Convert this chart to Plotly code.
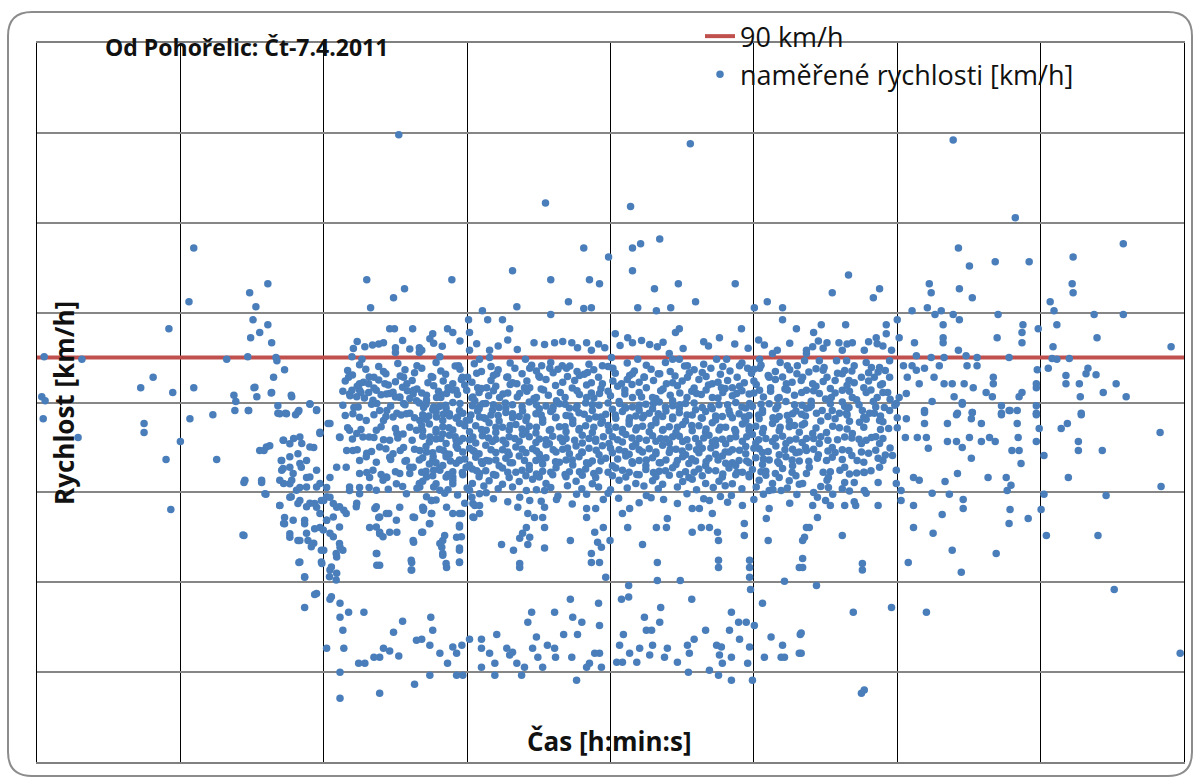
import plotly.graph_objects as go

# ---------------- data (time in hours, speed in km/h) ----------------
SPEED_LIMIT = 90

night = [(0.15,90.2),(0.94,89.6),(0.10,81.3),(0.17,80.4),(0.13,76.4),(0.86,72.2),(2.17,83.3),(2.43,85.6),(2.76,96.4),(2.84,82.2),
(2.24,75.3),(2.24,73.3),(2.70,67.3),(2.80,56.2),(3.00,71.3),(3.28,114.4),(3.18,102.4),(3.28,83.3),(3.20,76.4),(3.68,77.3),(3.76,67.3),
(3.97,89.6),(4.12,81.6),(4.16,80.2),(4.14,78.2),(4.43,78.2),(4.33,62.2),(4.33,50.4),(4.70,62.2),(4.79,59.6),(4.45,104.4),(4.83,106.4),
(4.58,101.3),(4.52,98.4),(4.83,97.3),(4.47,94.4),(4.66,95.6),(4.91,93.3),(4.41,90.2),(5.00,90.0),(5.02,89.3),(5.18,87.3),(4.95,85.6),
(4.54,83.3),(4.60,81.3),(4.91,82.2),(5.33,81.3),(5.04,79.3),(5.04,77.6),(5.20,77.6),(5.48,78.2),(5.71,79.6),(5.85,78.4),(5.41,77.3)]

dawn = [(4.75,69.3),(4.87,70.4),(5.16,71.6),(5.37,72.0),(5.54,70.9),(5.79,70.0),(5.92,73.1),(5.12,67.1),(5.12,64.9),(5.29,65.6),(5.50,66.4),
(5.64,63.3),(5.16,62.0),(5.33,62.7),(5.50,61.1),(5.29,58.9),(5.50,58.2),(5.71,57.6),(5.85,56.7),(6.00,58.2),(6.13,58.9),(6.27,56.7),(6.42,56.0),
(5.08,57.1),(5.18,54.4),(5.16,53.1),(5.29,50.0),(5.50,49.3),(5.64,50.9),(5.79,48.7),(5.60,53.8),(5.92,52.2),(6.06,53.8),(6.13,50.9),(6.34,47.8),
(6.27,45.6),(6.13,42.7),(6.27,42.0),(6.00,47.1),(5.96,44.2),(5.48,44.4),(5.60,41.1),(5.81,37.3),(5.60,34.4),(6.13,36.2),(6.34,35.3),(6.34,32.2),
(6.52,33.3),(6.84,33.3),(6.40,29.3),(6.06,25.3),(6.42,25.3),(6.34,20.0),(6.34,14.2),(7.17,15.3),(7.90,17.3),(6.73,22.0),(6.86,22.0),(7.05,23.3),
(7.17,23.3),(7.25,25.3),(7.38,24.7),(7.57,23.6),(7.46,28.9),(7.65,31.3),(7.94,27.1),(7.88,48.9),(7.84,44.4),(7.84,42.7),(7.11,46.4),(7.11,43.8),
(6.96,52.2),(7.17,51.1),(7.38,51.1),(7.53,51.1),(7.15,54.4),(7.36,55.3),(7.90,54.4),(8.05,51.1),(8.09,56.4),(7.59,56.7),(7.07,56.4),(6.69,57.6),
(6.54,60.4),(6.48,69.3),(6.69,73.1),(6.90,68.7),(7.05,72.2),(7.25,76.0),(7.38,67.8),(7.53,73.1),(7.67,70.0),(7.80,65.6),(8.00,62.0),(7.32,63.3),
(6.96,63.3),(6.75,61.1),(6.27,65.6),(6.13,63.3),(6.34,72.2),(6.13,75.3),(5.92,62.0),(6.06,61.1)]

morning = [(4.56,83.4),(4.90,82.1),(5.32,81.6),(4.42,78.2),(5.08,77.5),(5.22,77.5),(5.46,77.9),(5.71,79.7),(5.85,78.2),(6.09,75.3),(6.33,72.3),
(5.92,73.4),(4.66,69.3),(4.80,70.1),(5.15,71.6),(5.29,70.8),(5.50,72.3),(5.71,70.1),(5.11,67.1),(5.29,67.9),(5.46,68.6),(5.64,67.1),(5.15,65.3),
(5.36,64.2),(5.53,65.6),(5.71,63.4),(5.85,64.9),(4.35,62.7),(4.70,62.7),(4.77,59.7),(5.08,62.7),(5.29,61.9),(5.43,60.5),(5.64,61.2),(5.85,61.2),
(5.32,59.0),(5.46,57.5),(5.64,56.8),(5.81,57.5),(5.95,58.2),(6.06,59.0),(6.20,57.5),(6.33,56.8),(6.47,55.3),(5.08,57.1),(5.92,55.3),(6.06,53.8),
(6.20,54.5),(6.33,52.3),(5.99,51.6),(6.20,50.1),(6.33,48.6),(6.40,47.1),(6.26,46.4),(5.18,53.0),(5.29,50.8),(5.46,49.3),(5.67,49.3),(5.74,47.9),
(5.36,53.8),(5.60,53.0),(5.81,51.9),(5.50,44.5),(5.95,47.1),(5.95,44.5),(6.16,43.4),(6.12,41.2),(5.60,41.2),(6.26,40.5),(5.85,37.5),(6.16,36.8),
(4.31,50.5),(6.54,81.9),(6.75,82.7),(7.03,80.5),(7.31,81.9),(7.59,81.2),(7.87,81.9),(8.15,80.5),(8.43,81.9),(8.77,82.7),(9.12,81.2),(9.33,79.7),
(6.61,77.5),(6.89,76.0),(7.17,78.2),(7.45,76.8),(7.73,77.5),(8.01,76.0),(8.36,76.8),(8.63,77.5),(8.98,76.0),(9.26,76.8),(6.54,73.8),(6.82,72.3),
(7.10,73.8),(7.38,71.6),(7.66,73.0),(7.94,73.8),(8.22,72.3),(8.49,73.0),(8.77,71.6),(9.12,72.3),(9.40,73.8),(6.61,69.3),(6.89,67.9),(7.17,70.1),
(7.45,68.6),(7.73,67.1),(8.01,69.3),(8.29,67.9),(8.56,68.6),(8.84,67.1),(9.12,69.3),(9.40,67.1),(6.47,65.6),(6.75,64.2),(7.03,64.9),(7.31,63.4),
(7.59,64.2),(7.87,65.6),(8.15,63.4),(8.43,64.9),(8.70,63.4),(8.98,65.6),(9.26,64.2),(6.54,61.2),(6.75,59.7),(7.10,60.5),(7.24,62.7),(7.52,61.9),
(7.73,59.7),(8.01,61.2),(8.15,59.0),(8.43,60.5),(8.70,61.9),(9.05,60.5),(9.26,59.7),(6.68,56.8),(7.10,56.8),(7.17,54.5),(7.10,52.3),(7.31,55.3),
(7.52,53.8),(7.17,50.8),(7.24,50.1),(7.87,54.5),(8.08,56.0),(8.25,58.2),(8.25,55.3),(8.21,53.0),(8.43,48.6),(8.49,46.4),(8.56,44.2),(8.84,55.3),
(8.84,52.3),(8.88,50.1),(8.84,47.1),(8.84,44.5),(7.10,46.4),(7.17,43.8),(7.83,44.9),(7.83,42.7),(7.87,49.3),(8.49,49.3),(9.12,54.5),(9.26,55.3),
(9.12,57.5),
(7.57,139.6),(6.90,107.3),(6.98,101.1),(7.46,103.3),(7.69,105.3),(7.38,96.4),(7.48,96.4),(7.86,96.4),(6.86,92.4),(7.25,93.3),(7.50,92.2),
(7.50,91.1),(8.00,92.2),(8.00,91.1),(6.59,90.2),(6.80,89.6),(6.52,85.6),(6.75,84.2),(6.94,84.2),(7.05,85.6),(7.28,84.2),(7.67,85.6),(7.74,84.2),
(6.59,82.7),(6.69,81.3),(6.94,82.2),(7.11,79.8),(7.38,82.0),(7.59,81.1),(7.88,82.7),(7.94,80.4),(7.67,79.8),(6.63,78.9),(7.32,78.2),(7.53,77.6),
(7.80,77.6),(8.09,78.9)]

midday_upper = [(8.68,107.3),(10.64,124.4),(12.42,123.6),(13.67,137.6),(11.44,114.4),(11.96,112.4),(12.46,114.4),(12.63,115.3),(13.03,116.4),
(9.95,109.3),(10.75,107.3),(11.56,107.3),(11.77,106.4),(12.46,109.3),(12.92,105.3),(13.42,106.4),(14.61,106.4),(10.04,101.3),(11.12,102.4),
(11.44,100.9),(11.60,101.1),(10.75,99.6),(9.32,100.4),(9.03,98.4),(9.43,98.4),(9.74,98.4),(9.89,96.4),(12.57,101.1),(12.96,100.4),(13.26,101.1),
(13.78,102.4),(15.01,101.1),(15.28,102.4),(15.60,101.1),(15.60,98.4),(15.89,96.4),(14.74,96.4),(14.28,94.4),(13.44,96.4),(13.36,95.6),(12.10,95.3),
(12.36,94.4),(12.46,93.3),(12.82,92.9),(12.98,92.4),(8.70,95.6),(8.59,96.4),(8.28,95.3),(8.22,94.2),(10.83,93.3),(11.19,93.3),(11.31,92.2),
(11.50,93.3),(11.60,91.6),(9.05,95.6),(9.05,91.6),(9.47,91.6),(9.47,90.0),(9.26,89.6),(8.82,88.2),(8.43,90.2),(8.05,91.6),(10.22,89.6),(10.31,87.6),
(10.56,88.2),(10.73,87.6),(10.99,88.2),(11.08,87.6),(11.83,88.2),(12.02,90.0),(12.57,89.6),(13.23,90.9),(13.30,89.6),(13.44,89.6),(13.61,88.2),
(14.22,89.6),(14.43,89.6),(14.70,88.2),(14.87,87.6),(15.12,89.6),(15.39,90.9),(15.49,91.6),(15.70,88.2),(15.91,88.2),(16.10,90.9),(8.28,85.6),
(8.70,84.2),(9.01,85.6),(9.22,83.3),(9.62,86.4),(9.83,85.6),(10.04,84.2),(10.31,83.3),(10.52,85.6),(11.35,86.0),(11.52,86.7),(11.83,84.2),
(12.23,84.2),(12.46,86.4),(12.71,85.6),(13.03,86.4),(13.17,84.2),(13.61,85.6),(13.92,86.7),(14.13,84.2),(14.32,83.3),(14.55,83.3),(15.12,87.6),
(15.32,85.6),(15.68,84.2),(15.99,84.9),(15.12,82.7),(15.53,81.1),(8.36,81.1),(8.57,82.0),(8.99,82.7),(9.16,80.4),(9.41,83.3),(9.68,81.1),
(10.10,82.0),(10.45,81.1),(10.87,80.4),(11.50,81.1),(11.77,82.0),(12.19,79.8),(12.46,81.1),(12.88,81.1),(13.30,80.4),(13.80,82.0),(14.13,81.1),
(14.64,82.0),(14.91,79.8),
(6.62,92.0),(7.02,92.8),(7.80,91.9),(8.48,92.5),(9.65,92.6),(10.05,91.8),(10.62,92.9),(11.88,92.2),(12.20,92.7),(13.52,92.0),(14.05,92.6),
(14.88,92.1),(15.22,92.8),(16.45,92.1),(17.70,92.6),
(6.70,93.6),(7.15,93.0),(7.65,93.8),(8.30,93.2),(8.85,93.7),(9.20,93.1),(9.85,93.9),(10.40,93.3),(11.00,93.6),(11.75,93.0),(12.65,93.8),
(13.10,93.4),(13.95,93.5),(14.60,93.0),(15.10,93.9),(15.75,93.2),(16.35,93.7),(16.95,93.0),(17.40,93.5)]

midday_band = [(6.55,81.5),(6.85,81.0),(7.20,81.7),(7.50,81.2),(7.80,80.9),(8.15,81.6),(8.45,81.1),(8.80,81.8),(9.10,81.0),(9.45,81.5),(9.75,81.9),
(10.05,81.2),(10.40,80.9),(10.70,81.6),(11.05,81.1),(11.35,81.8),(11.65,81.0),(12.00,81.5),(12.30,81.9),(12.65,81.2),(12.95,80.9),(13.25,81.6),
(13.60,81.1),(13.90,81.8),(14.25,81.0),(14.55,81.5),(14.90,81.9),(15.20,81.2),(15.50,80.9),(15.85,81.6),
(6.70,83.6),(7.05,83.2),(7.35,83.9),(7.65,83.4),(7.95,83.0),(8.30,83.7),(8.60,83.3),(8.95,83.9),(9.30,83.1),(9.60,83.6),(9.90,84.0),(10.20,83.3),
(10.55,83.0),(10.85,83.8),(11.20,83.2),(11.50,83.9),(11.80,83.1),(12.15,83.6),(12.45,84.0),(12.75,83.3),(13.10,83.0),(13.40,83.7),(13.75,83.2),
(14.05,83.9),(14.40,83.1),(14.70,83.6),(15.05,84.0),(15.35,83.3),(15.65,83.0),
(6.60,86.1),(6.95,85.7),(7.30,86.4),(7.60,85.9),(7.90,86.6),(8.25,85.8),(8.55,86.3),(8.90,85.6),(9.20,86.5),(9.55,86.0),(9.85,85.7),(10.15,86.4),
(10.50,85.9),(10.80,86.6),(11.10,85.8),(11.45,86.3),(11.75,85.6),(12.10,86.5),(12.40,86.0),(12.70,85.7),(13.00,86.4),(13.35,85.9),(13.65,86.6),
(14.00,85.8),(14.30,86.3),(14.65,85.6),(14.95,86.5),(15.30,86.0),(15.60,85.7),(15.90,86.4),
(6.75,88.4),(7.15,88.0),(7.55,88.7),(7.95,88.2),(8.35,88.9),(8.75,88.1),(9.15,88.6),(9.50,88.0),(9.90,88.8),(10.35,88.3),(10.75,88.9),(11.15,88.1),
(11.55,88.5),(11.95,88.0),(12.35,88.8),(12.75,88.3),(13.15,88.9),(13.55,88.1),(13.95,88.5),(14.35,88.0),(14.75,88.8),(15.15,88.3),(15.55,88.9),
(8.14,79.6),(8.42,79.1),(8.70,80.0),(9.11,79.3),(9.39,79.8),(9.67,78.9),(9.95,79.5),(10.30,80.1),(10.65,79.2),(10.93,79.7),(11.14,78.8),(11.48,79.9),
(11.76,79.4),(12.18,80.2),(12.46,79.0),(12.74,79.6),(13.02,80.1),(13.30,79.3),(13.57,79.8),(13.92,78.9),(14.27,79.5),(14.62,80.0),(14.97,79.1),
(15.32,79.7),(15.67,80.2),(16.01,79.4),
(8.28,78.4),(8.56,78.7),(8.84,78.2),(9.25,78.6),(9.53,78.3),(9.81,78.8),(10.16,78.1),(10.51,78.6),(10.79,78.4),(11.28,78.7),(11.62,78.2),(12.04,78.5),
(12.32,78.8),(12.60,78.3),(12.88,78.6),(13.16,78.1),(13.44,78.7),(13.78,78.4),(14.13,78.6),(14.48,78.2),(14.83,78.8),(15.18,78.3),(15.46,78.6),(15.88,78.1),
(8.07,77.3),(8.35,77.9),(8.63,77.0),(8.91,77.6),(9.22,78.1),(9.50,77.2),(9.81,77.8),(10.09,76.9),(10.44,77.5),(10.75,78.0),(11.07,77.1),(11.34,77.7),
(11.69,76.8),(11.90,77.4),(12.25,78.0),(12.53,77.0),(12.81,77.6),(13.09,76.9),(13.44,77.7),(13.71,77.2),(13.99,78.0),(14.34,76.9),(14.69,77.5),
(14.90,77.1),(15.18,77.8),(15.53,76.9),(15.81,77.5),(16.08,77.0),
(8.14,76.3),(8.49,76.0),(8.77,76.5),(9.05,76.1),(9.39,76.4),(9.67,75.9),(9.95,76.6),(10.23,76.0),(10.58,76.3),(10.86,76.7),(11.21,76.1),(11.55,76.4),
(11.83,75.9),(12.11,76.5),(12.39,76.0),(12.67,76.6),(12.95,76.2),(13.30,76.4),(13.57,75.9),(13.92,76.5),(14.20,76.1),(14.55,76.6),(14.83,76.0),
(15.11,76.4),(15.46,76.2),(15.74,75.9),
(8.21,75.2),(8.49,74.6),(8.84,75.4),(9.18,74.8),(9.46,75.5),(9.74,74.5),(10.02,75.1),(10.30,74.7),(10.58,75.6),(10.93,74.6),(11.21,75.3),(11.48,74.8),
(11.80,75.4),(12.11,74.5),(12.39,75.2),(12.67,74.7),(12.95,75.5),(13.23,74.6),(13.51,75.1),(13.85,74.8),(14.13,75.5),(14.41,74.5),(14.76,75.2),
(15.04,74.7),(15.39,75.3),(15.74,74.6),(16.01,75.0),
(8.07,73.7),(8.35,73.4),(8.70,73.9),(9.05,73.5),(9.32,73.8),(9.60,73.3),(9.88,73.9),(10.23,73.6),(10.44,73.2),(10.72,73.8),(11.07,73.5),(11.34,73.9),
(11.62,73.3),(11.97,73.7),(12.25,73.4),(12.53,73.9),(12.81,73.5),(13.09,73.8),(13.37,73.3),(13.71,73.7),(13.99,73.4),(14.27,73.9),(14.62,73.5),
(14.90,73.8),(15.18,73.3),(15.53,73.7),(15.95,73.4),
(8.07,72.5),(8.35,71.9),(8.63,72.7),(8.91,72.0),(9.32,72.6),(9.60,71.8),(9.88,72.4),(10.16,72.9),(10.51,71.9),(10.79,72.5),(11.07,72.0),(11.41,72.7),
(11.69,71.8),(12.04,72.4),(12.32,72.9),(12.60,72.0),(12.88,72.6),(13.16,71.9),(13.44,72.5),(13.78,72.0),(14.06,72.7),(14.34,71.8),(14.62,72.4),
(14.97,72.9),(15.25,72.0),(15.60,72.5),(15.88,71.9),
(8.21,71.2),(8.56,70.9),(8.84,71.4),(9.18,71.0),(9.53,71.3),(9.81,70.8),(10.09,71.4),(10.44,71.1),(10.72,70.8),(11.00,71.3),(11.41,71.0),(11.69,71.4),
(11.97,70.9),(12.25,71.2),(12.53,70.8),(12.95,71.4),(13.23,71.0),(13.51,71.3),(13.85,70.9),(14.13,71.2),(14.41,70.8),(14.76,71.4),(15.04,71.0),
(15.39,71.3),(15.67,70.9),(16.01,71.1),
(8.14,70.2),(8.42,69.6),(8.77,70.4),(9.05,69.8),(9.39,70.5),(9.74,69.5),(10.02,70.1),(10.37,69.7),(10.65,70.6),(11.00,69.6),(11.28,70.3),(11.55,69.8),
(11.83,70.4),(12.18,69.5),(12.46,70.2),(12.81,69.7),(13.09,70.5),(13.37,69.6),(13.64,70.1),(13.92,69.8),(14.20,70.5),(14.55,69.5),(14.83,70.2),
(15.11,69.7),(15.46,70.3),(15.81,69.6),(16.08,70.0),
(8.28,68.8),(8.63,68.5),(8.91,69.0),(9.25,68.6),(9.60,68.9),(9.88,68.4),(10.23,68.8),(10.51,68.5),(10.86,69.0),(11.14,68.6),(11.41,68.9),(11.76,68.4),
(12.04,68.8),(12.39,68.5),(12.67,69.0),(12.95,68.6),(13.23,68.9),(13.57,68.4),(13.85,68.8),(14.20,68.5),(14.48,69.0),(14.83,68.6),(15.18,68.9),
(15.53,68.4),(15.88,68.8),
(8.07,67.7),(8.28,67.1),(8.56,67.9),(8.84,67.2),(9.18,67.8),(9.46,67.0),(9.81,67.6),(10.09,68.1),(10.44,67.1),(10.65,67.7),(11.07,67.2),(11.34,67.9),
(11.62,67.0),(11.90,67.6),(12.32,68.1),(12.60,67.1),(12.88,67.7),(13.16,67.2),(13.51,67.9),(13.78,67.0),(14.06,67.6),(14.34,68.1),(14.69,67.1),
(15.04,67.7),(15.32,67.2),(15.67,67.9),(15.95,67.0),
(8.21,66.3),(8.49,66.0),(8.77,66.5),(9.05,66.1),(9.32,66.4),(9.67,65.9),(9.95,66.6),(10.30,66.0),(10.58,66.3),(10.93,66.7),(11.21,66.1),(11.55,66.4),
(12.04,65.9),(12.46,66.5),(12.74,66.0),(13.02,66.6),(13.37,66.2),(13.64,66.4),(13.99,65.9),(14.41,66.5),(14.62,66.0),(14.90,66.6),(15.18,66.2),
(15.53,66.4),(15.81,65.9),
(8.14,64.7),(8.42,65.3),(8.70,64.6),(9.11,65.2),(9.39,64.8),(9.74,65.4),(10.02,64.5),(10.30,65.1),(10.58,64.7),(10.86,65.5),(11.14,64.6),(11.48,65.2),
(11.76,64.8),(12.11,65.4),(12.39,64.5),(12.74,65.1),(13.02,64.7),(13.30,65.5),(13.57,64.6),(13.85,65.2),(14.20,64.8),(14.48,65.4),(14.76,64.5),
(14.97,65.1),(15.25,64.7),(15.60,65.3),
(8.28,63.7),(8.56,63.4),(8.91,63.9),(9.25,63.5),(9.60,63.8),(9.88,63.3),(10.23,63.7),(10.51,63.4),(10.79,63.9),(11.07,63.5),(11.41,63.8),(11.69,63.3),
(12.04,63.7),(12.32,63.4),(12.60,63.9),(12.95,63.5),(13.23,63.8),(13.64,63.3),(13.92,63.7),(14.34,63.4),(14.62,63.9),(14.90,63.5),(15.25,63.8),
(15.53,63.3),(15.88,63.7),
(8.07,62.5),(8.35,61.9),(8.70,62.7),(9.11,62.0),(9.46,62.6),(9.74,61.8),(10.09,62.4),(10.37,62.9),(10.65,62.0),(11.28,62.5),(11.62,61.9),(12.18,62.7),
(12.53,62.0),(12.88,62.6),(13.09,61.8),(13.51,62.4),(13.71,62.9),(13.99,62.0),(14.27,62.5),(14.55,61.9),(15.11,62.7),(15.39,62.0),(15.74,62.6),(15.95,61.8)]

band_extra = [(6.50,87.1),(6.88,87.4),(7.25,86.9),(7.70,87.3),(8.05,87.6),(8.45,87.0),(8.85,87.4),(9.30,86.9),(9.65,87.3),(10.00,87.6),(10.45,87.0),
(10.90,87.4),(11.30,86.9),(11.65,87.3),(12.05,87.6),(12.50,87.0),(12.85,87.4),(13.25,86.9),(13.75,87.3),(14.10,87.6),(14.50,87.0),(15.00,87.4),
(15.45,86.9),(15.75,87.3),(16.30,87.5),(16.90,87.1),(17.60,86.8),(18.40,87.2),
(6.45,84.8),(6.83,84.5),(7.15,85.0),(7.50,84.6),(7.85,84.9),(8.18,84.4),(8.50,84.8),(8.88,85.1),(9.10,84.5),(9.50,84.9),(9.95,84.4),(10.25,84.8),
(10.65,85.1),(11.00,84.5),(11.25,84.9),(11.60,84.4),(12.05,84.8),(12.35,85.1),(12.60,84.5),(12.90,84.9),(13.30,84.4),(13.50,84.8),(13.85,85.1),
(14.25,84.5),(14.45,84.9),(14.80,84.4),(15.00,84.8),(15.45,85.1),(15.80,84.5),(16.45,84.7),(16.70,84.9),(17.10,84.4),(17.40,84.8),
(6.40,82.5),(6.78,82.2),(7.10,82.7),(7.45,82.3),(7.75,82.6),(8.05,82.1),(8.40,82.5),(8.70,82.8),(9.25,82.2),(9.55,82.6),(9.85,82.1),(10.25,82.5),
(10.60,82.8),(10.95,82.2),(11.30,82.6),(11.60,82.1),(11.95,82.5),(12.30,82.8),(12.60,82.2),(13.05,82.6),(13.45,82.1),(13.70,82.5),(14.00,82.8),
(14.35,82.2),(14.75,82.6),(15.00,82.1),(15.35,82.5),(15.70,82.8),(16.00,82.2),(16.25,82.6),(16.70,82.1),(17.00,82.5),(17.45,82.8),(17.70,82.2),
(6.40,79.4),(6.72,79.0),(7.00,79.6),(7.40,79.2),(7.70,79.5),(8.00,79.9),(8.30,79.0),(8.55,79.4),(8.85,79.8),(9.25,79.0),(9.55,79.5),(9.80,79.9),
(10.15,79.1),(10.45,79.5),(10.80,79.0),(11.05,79.6),(11.30,79.2),(11.62,79.5),(11.95,79.9),(12.30,79.0),(12.60,79.4),(12.90,79.8),(13.15,79.0),
(13.45,79.5),(13.75,79.9),(14.10,79.1),(14.45,79.5),(14.75,79.0),(15.15,79.6),(15.50,79.2),(15.85,79.5),(16.20,79.3),(16.60,79.7),(16.90,79.1),
(17.20,79.5),(17.55,79.0),(17.95,79.4),
(6.45,77.1),(6.75,76.7),(7.05,77.3),(7.30,76.9),(7.62,77.2),(7.90,76.6),(8.20,77.0),(8.50,77.4),(8.80,76.8),(9.08,77.2),(9.35,76.6),(9.65,77.1),
(9.95,77.5),(10.25,76.8),(10.55,77.2),(10.85,76.6),(11.15,77.0),(11.45,77.4),(11.80,76.8),(12.10,77.2),(12.40,76.6),(12.70,77.1),(13.00,77.5),
(13.30,76.8),(13.60,77.2),(13.90,76.6),(14.20,77.0),(14.50,77.4),(14.80,76.8),(15.10,77.2),(15.40,76.6),(15.70,77.1),(16.00,77.4),(16.55,76.9),
(16.95,77.2),(17.30,76.7),(17.65,77.0),(18.00,76.6),
(6.50,74.4),(6.78,74.0),(7.20,74.6),(7.50,74.2),(7.80,74.5),(8.05,74.9),(8.35,74.0),(8.62,74.4),(8.95,74.8),(9.30,74.0),(9.60,74.5),(9.90,74.9),
(10.15,74.1),(10.45,74.5),(10.75,74.0),(11.05,74.6),(11.35,74.2),(11.65,74.5),(11.95,74.9),(12.25,74.0),(12.55,74.4),(12.85,74.8),(13.10,74.0),
(13.40,74.5),(13.70,74.9),(14.00,74.1),(14.30,74.5),(14.60,74.0),(14.90,74.6),(15.20,74.2),(15.55,74.5),(15.85,74.9),(16.30,74.3),(16.65,74.7),
(16.95,74.1),(17.30,74.5),(17.65,74.0),(18.00,74.4),
(6.60,71.9),(6.95,72.3),(7.25,71.7),(7.55,72.1),(7.85,71.6),(8.45,72.0),(8.75,72.4),(9.05,71.7),(9.45,72.1),(9.75,71.6),(10.00,72.0),(10.30,72.4),
(10.65,71.7),(10.95,72.1),(11.25,71.6),(11.55,72.0),(11.85,72.4),(12.15,71.7),(12.45,72.1),(12.75,71.6),(13.05,72.0),(13.30,72.4),(13.60,71.7),
(13.95,72.1),(14.20,71.6),(14.50,72.0),(14.85,72.4),(15.10,71.7),(15.45,72.1),(15.75,71.6),(16.10,72.0),(16.40,72.4),(16.75,71.7),(17.05,72.1),
(17.35,71.6),(17.70,72.0),
(6.70,69.5),(7.00,69.1),(7.30,69.7),(7.60,69.3),(7.90,69.6),(8.15,69.0),(8.50,69.4),(8.80,69.8),(9.15,69.1),(9.50,69.5),(9.85,69.0),(10.15,69.6),
(10.45,69.2),(10.80,69.5),(11.10,69.9),(11.40,69.0),(11.70,69.4),(12.00,69.8),(12.30,69.1),(12.60,69.5),(12.95,69.0),(13.25,69.6),(13.50,69.2),
(13.80,69.5),(14.10,69.9),(14.40,69.0),(14.70,69.4),(15.00,69.8),(15.30,69.1),(15.65,69.5),(15.95,69.0),(16.25,69.6),(16.55,69.2),(16.85,69.5),
(17.25,69.0),(17.55,69.4),(17.85,69.9),
(6.75,67.1),(7.10,66.7),(7.40,67.3),(7.70,66.9),(8.00,67.2),(8.35,66.6),(8.65,67.0),(8.95,67.4),(9.30,66.8),(9.60,67.2),(9.90,66.6),(10.20,67.1),
(10.55,67.5),(10.85,66.8),(11.20,67.2),(11.50,66.6),(11.80,67.0),(12.15,67.4),(12.45,66.8),(12.75,67.2),(13.05,66.6),(13.40,67.1),(13.70,67.5),
(14.00,66.8),(14.25,67.2),(14.55,66.6),(14.85,67.0),(15.20,67.4),(15.50,66.8),(15.80,67.2),(16.15,66.9),(16.85,67.3),(17.30,66.7),(17.70,67.1),
(6.90,64.4),(7.20,64.0),(7.50,64.6),(7.80,64.2),(8.05,64.5),(8.30,64.9),(8.60,64.0),(8.90,64.4),(9.20,64.8),(9.55,64.0),(9.85,64.5),(10.15,64.9),
(10.45,64.1),(10.75,64.5),(11.05,64.0),(11.35,64.6),(11.65,64.2),(11.95,64.5),(12.25,64.9),(12.55,64.0),(12.90,64.4),(13.15,64.8),(13.45,64.0),
(13.75,64.5),(14.05,64.9),(14.35,64.1),(14.65,64.5),(14.90,64.0),(15.15,64.6),(15.45,64.2),(15.80,64.5),(16.10,64.2),(16.60,64.6),(17.00,64.1),
(17.30,64.5),
(6.95,61.1),(7.35,60.7),(7.65,61.3),(7.95,60.9),(8.30,61.2),(8.60,60.6),(9.00,61.0),(9.35,61.4),(9.65,60.8),(9.95,61.2),(10.45,60.6),(10.75,61.1),
(11.10,61.5),(11.40,60.8),(11.75,61.2),(12.00,60.6),(12.35,61.0),(12.70,61.4),(13.00,60.8),(13.40,61.2),(13.80,60.6),(14.15,61.1),(14.40,61.5),
(14.75,60.8),(15.05,61.2),(15.40,60.6),(15.70,61.0),(16.40,61.3),(16.85,60.8),
(8.80,59.4),(9.40,59.9),(10.90,59.2),(11.95,59.8),(12.75,59.3),(13.60,59.7),(14.30,59.1),(15.20,59.6),(15.90,59.5),
(8.35,58.3),(8.95,57.6),(9.55,58.6),(9.85,57.9),(10.55,58.0),(11.20,57.4),(11.85,58.4),(12.60,57.7),(12.85,58.8),(13.40,57.5),(13.95,58.6),
(14.45,57.8),(15.00,58.4),(15.75,57.6),(16.50,58.2),(17.10,57.9)]

midday_mid = [(8.07,56.7),(8.26,58.2),(8.26,55.3),(8.22,53.1),(8.07,51.1),(8.53,59.8),(8.57,56.7),(8.70,55.3),(8.89,55.3),(8.84,52.7),(8.53,50.4),
(8.47,47.8),(8.49,46.0),(8.57,43.3),(8.78,50.0),(8.84,47.6),(8.84,44.4),(9.16,57.1),(9.26,57.1),(9.14,54.4),(9.10,58.9),(9.72,48.4),(9.97,47.1),
(10.10,44.2),(10.10,43.3),(10.06,56.7),(10.10,58.9),(10.24,60.4),(10.31,58.2),(10.27,55.3),(10.41,54.4),(10.58,54.4),(10.24,52.2),(10.16,50.9),
(10.31,50.0),(10.10,49.8),(10.27,48.4),(10.62,52.2),(10.62,47.6),(10.62,56.7),(10.62,60.4),(10.87,58.4),(11.16,49.3),(11.29,59.6),(11.50,59.6),
(11.50,56.4),(11.69,56.4),(11.50,54.4),(11.67,51.1),(11.73,48.9),(11.81,47.8),(11.60,46.4),(11.60,44.4),(11.77,44.4),(11.85,52.2),(11.90,41.1),
(11.99,49.3),(12.17,58.7),(12.25,55.3),(12.36,52.2),(12.40,56.4),(12.67,48.4),(12.98,44.4),(12.98,40.4),(13.46,40.4),(12.96,52.2),(13.17,52.2),
(13.19,54.2),(13.11,58.4),(13.71,56.4),(13.86,56.4),(13.71,51.1),(13.90,52.2),(14.07,52.2),(14.13,55.3),(14.24,51.1),(14.26,49.3),(14.26,44.9),
(14.26,43.3),(14.07,58.2),(14.53,59.3),(14.76,57.1),(14.80,53.1),(14.80,50.4),(14.91,44.9),(14.91,43.3),(15.30,49.3),(15.32,56.4),(15.26,54.2),
(15.57,60.4),(16.10,52.2),(15.95,43.3),(15.32,60.4),(16.02,49.3)]

jam = [(8.24,32.2),(8.28,29.3),(8.05,27.3),(8.22,26.0),(8.43,24.2),(8.59,22.0),(8.22,19.3),(8.78,19.3),(8.91,19.3),(8.70,25.6),(8.89,26.0),
(8.78,24.2),(9.05,27.3),(9.30,27.3),(9.30,25.3),(9.62,28.4),(9.47,24.2),(9.30,21.1),(9.58,22.0),(9.58,19.3),(9.83,25.3),(9.95,24.4),(9.89,23.8),
(10.04,22.0),(10.20,21.1),(10.14,19.3),(10.35,33.3),(10.27,31.1),(10.45,27.8),(10.37,25.3),(10.48,23.3),(10.58,21.1),(10.68,26.0),(10.83,25.3),
(10.85,23.3),(10.83,33.3),(11.02,28.4),(11.16,36.2),(11.21,32.2),(11.40,31.1),(11.31,28.4),(11.19,23.3),(11.29,18.2),(11.56,22.0),(11.67,24.2),
(11.77,24.2),(11.81,21.1),(11.77,30.4),(11.75,35.3),(11.50,21.1),(12.13,22.2),(12.25,22.2),(12.19,26.0),(12.27,28.4),(12.40,24.2),(12.61,25.3),
(12.55,22.2),(12.82,23.8),(12.88,26.0),(13.13,23.3),(13.19,25.3),(13.40,22.2),(12.71,32.2),(12.75,29.3),(12.86,29.3),(13.03,31.1),(13.05,34.4),
(12.23,36.2),(12.38,36.7),(12.38,39.3),(13.70,36.2),(13.61,26.0),(13.65,24.2),(13.75,27.3),(13.63,20.0),(13.99,29.3),(14.22,26.0),(14.28,23.8),
(14.34,22.0),(14.32,25.6),(14.53,23.3),(14.53,18.2),(14.70,27.3),(14.68,31.1),(14.53,33.3),(14.84,31.1),(14.91,25.6),(14.87,22.0),(14.26,19.3),
(14.07,20.4),(14.49,29.3),(14.97,18.2),(15.01,30.4),(14.93,38.4),(14.91,41.1),(15.22,23.3),(15.36,27.8),(15.57,23.3),(15.64,23.3),(15.60,26.0),
(15.95,24.2),(15.97,28.4),(15.18,35.3),(15.64,40.2),(15.99,28.7),(15.99,24.2),(17.31,16.0),(17.25,15.3),(17.08,33.3),(17.88,34.4),(16.31,39.3),
(18.61,33.3),(22.54,38.4),(23.92,24.2)]

afternoon = [(19.17,138.4),(20.47,121.1),(19.28,114.4),(19.51,110.4),(20.05,111.3),(20.76,111.3),(21.68,112.4),(22.73,115.3),(16.98,108.4),
(16.64,104.4),(17.50,103.3),(17.63,105.3),(18.67,106.4),(18.71,104.4),(19.30,105.3),(19.57,103.3),(21.66,106.4),(21.68,104.4),(21.20,102.4),
(21.28,100.4),(18.31,100.4),(18.63,101.1),(18.79,99.6),(18.92,100.4),(19.17,99.6),(19.30,98.4),(20.11,99.6),(22.12,99.6),(22.73,99.6),(18.00,98.4),
(17.77,97.3),(16.41,97.3),(16.92,97.3),(16.25,95.6),(18.96,97.3),(20.63,97.3),(20.95,96.4),(21.34,97.3),(20.61,95.6),(20.09,94.4),(18.96,94.4),
(18.96,93.3),(20.61,93.3),(22.18,94.4),(18.36,93.3),(18.04,94.4),(17.56,94.4),(17.58,93.1),(17.77,95.3),(17.06,93.3),(16.78,93.3),(16.53,93.3),
(16.23,92.4),(21.26,92.4),(23.73,92.4),(19.28,91.6),(20.34,90.0),(17.88,91.6),(17.31,91.6),(16.85,91.6),(16.10,91.6),(18.40,90.4),(18.71,90.0),
(18.98,90.0),(19.44,90.4),(19.67,90.0),(21.24,89.8),(21.60,89.8),(18.13,88.2),(18.31,88.2),(18.57,87.6),(18.88,88.2),(19.46,88.2),(19.67,88.2),
(20.93,87.3),(21.16,87.6),(21.34,89.6),(21.99,87.6),(21.95,86.4),(22.16,86.2),(21.53,86.0),(21.53,84.2),(21.81,84.2),(22.58,84.2),(22.31,82.2),
(22.79,81.3),(21.83,81.3),(21.85,77.6),(18.21,85.6),(18.46,84.2),(18.77,85.6),(18.98,84.2),(19.15,84.2),(19.40,84.2),(19.59,83.3),(20.01,85.6),
(20.01,84.2),(19.86,82.2),(19.99,81.3),(20.91,84.2),(20.91,83.3),(20.61,82.2),(20.55,81.3),(19.19,81.3),(19.36,80.0),(18.73,80.2),(18.57,78.2),
(20.18,79.3),(20.18,77.6),(20.34,78.2),(20.51,78.2),(20.91,79.3),(20.91,77.6),(19.57,77.8),(19.26,77.6),(18.04,81.1),(18.19,82.0),(17.98,79.8),
(16.06,89.3),(16.37,89.3),(16.47,87.8),(16.73,89.3),(16.94,89.3),(17.10,88.2),(17.35,88.9),(17.46,87.8),(17.63,87.8),(17.84,89.3),(16.02,85.6),
(16.23,84.2),(16.53,85.6),(16.85,86.4),(16.99,84.9),(17.25,85.6),(17.52,85.6),(17.69,84.2),(17.84,85.6),(16.10,82.7),(16.37,82.0),(16.62,81.1),
(16.85,82.7),(17.06,81.1),(17.35,82.2),(17.58,81.1),(17.80,82.2),(16.16,78.9),(16.43,78.2),(16.79,77.6),(16.99,78.9),(17.27,78.2),(17.52,77.6),
(17.73,78.9),
(16.15,86.8),(16.45,87.2),(16.75,86.5),(17.05,87.0),(17.40,86.6),(17.75,87.1),(16.30,83.6),(16.60,83.1),(16.95,83.8),(17.30,83.3),(17.65,83.9),
(16.20,80.3),(16.50,80.8),(16.85,80.1),(17.15,80.6),(17.50,80.2),(17.85,80.7),(16.40,75.9),(16.70,76.4),(17.00,75.8),(17.35,76.3),(17.70,75.7),
(16.25,72.0),(16.55,71.6),(16.90,72.3),(17.20,71.8),(17.55,72.4),(16.35,68.4),(16.70,68.9),(17.05,68.2),(17.40,68.7),(17.75,68.3),(16.45,64.5),
(16.80,64.9),(17.15,64.3),(17.45,64.8),(16.25,60.0),(16.65,59.6),(17.00,60.3),(17.35,59.8)]

evening = [(23.50,73.3),(23.52,61.3),(22.20,50.4),(22.37,59.3),(22.29,69.3),(21.85,77.3),(21.56,75.3),(21.43,74.2),(21.79,71.3),(21.79,69.3),
(21.58,63.3),(21.07,68.2),(20.91,71.3),(20.97,74.2),(20.91,77.3),(21.07,59.6),(21.01,56.2),(21.12,50.4),(20.74,54.2),(20.34,53.1),(20.36,56.2),
(20.30,60.4),(20.38,61.6),(20.28,63.3),(20.59,66.4),(20.40,69.3),(20.55,69.3),(20.53,72.2),(20.51,75.3),(20.36,78.2),(20.18,77.3),(20.05,71.3),
(19.93,72.2),(19.76,75.3),(19.76,71.3),(19.55,67.6),(19.36,70.0),(19.24,71.3),(19.51,72.2),(19.55,76.4),(19.57,77.8),(19.24,77.3),(19.05,75.3),
(19.05,71.3),(19.36,79.6),(19.90,63.3),(19.26,64.2),(19.00,62.4),(19.09,59.6),(19.38,58.4),(19.38,56.4),(18.94,55.1),(19.15,47.1),(19.34,42.2),
(20.07,46.4),(18.73,59.8),(18.75,50.9),(18.34,52.2),(18.23,44.4),(18.34,57.1),(18.34,63.3),(18.46,62.7),(18.08,58.2),(18.08,60.4),(17.98,62.0),
(17.98,64.9),(17.90,68.2),(18.17,72.2),(18.42,72.2),(18.61,72.2),(18.65,69.8),(18.57,75.3),(18.57,77.8),(18.19,76.4),(17.82,74.2),(17.63,70.9),
(17.60,67.6),(17.60,62.2),(17.60,57.1),(17.31,60.4),(17.13,57.1),(16.90,57.1),(16.60,57.1),(16.85,50.4),(17.27,44.2),(17.27,42.7),(16.33,54.4),
(16.23,57.1),(16.16,52.2),(16.06,50.0),(16.02,45.3),(16.02,43.3),(16.33,58.9),(16.90,62.2),(17.10,62.2),(17.31,64.4),(17.63,65.6),(16.90,65.6),
(16.56,63.3),(16.53,62.7),(16.56,61.1),(16.02,62.0),(16.16,65.6),(16.33,67.6),(16.52,67.1),(16.64,67.8),(16.10,69.3),(16.37,70.9),(16.64,70.0),
(16.99,69.3),(17.16,67.1),(17.25,70.9),(17.46,72.2),(17.06,73.1),(16.79,74.4),(16.52,73.3),(16.23,73.1),(16.06,75.3),(16.31,77.6),(16.64,78.2),
(16.94,77.6),(17.21,75.6),(17.42,77.6),(17.63,76.0),(17.84,78.2),(16.10,78.7)]

segments = [night, dawn, morning, midday_upper, midday_band, band_extra, midday_mid, jam, afternoon, evening]
times = [p[0] for seg in segments for p in seg]
speeds = [p[1] for seg in segments for p in seg]

# ---------------- layout helpers (pixel geometry of the page) ----------------
W, H = 1200, 782
L, R, T, B = 37, 1184, 41, 762

def fx(px):
    return (px - L) / (R - L)

def fy(py):
    return (B - py) / (B - T)

def rounded_path(x0, y0, x1, y1, r):
    return (f"M {fx(x0 + r)},{fy(y0)} L {fx(x1 - r)},{fy(y0)} Q {fx(x1)},{fy(y0)} {fx(x1)},{fy(y0 + r)} "
            f"L {fx(x1)},{fy(y1 - r)} Q {fx(x1)},{fy(y1)} {fx(x1 - r)},{fy(y1)} "
            f"L {fx(x0 + r)},{fy(y1)} Q {fx(x0)},{fy(y1)} {fx(x0)},{fy(y1 - r)} "
            f"L {fx(x0)},{fy(y0 + r)} Q {fx(x0)},{fy(y0)} {fx(x0 + r)},{fy(y0)} Z")

FONT = "Open Sans"

fig = go.Figure()
fig.add_trace(go.Scatter(x=[0, 24], y=[SPEED_LIMIT, SPEED_LIMIT], mode="lines",
                         line=dict(color="#C0504D", width=4), name="90 km/h"))
fig.add_trace(go.Scatter(x=times, y=speeds, mode="markers",
                         marker=dict(color="#4A7EBB", size=7.5, line=dict(width=0)),
                         name="naměřené rychlosti [km/h]"))

fig.update_layout(
    width=W, height=H,
    margin=dict(l=L, r=W - R, t=T, b=H - B, pad=0),
    paper_bgcolor="white", plot_bgcolor="white",
    font=dict(family=FONT, color="#111111"),
    showlegend=True,
    legend=dict(x=fx(700), y=fy(10), xanchor="left", yanchor="top",
                bgcolor="rgba(0,0,0,0)", font=dict(size=27, family=FONT, color="#111111"),
                tracegroupgap=0, itemsizing="trace"),
    xaxis=dict(range=[0, 24], tick0=0, dtick=3, showgrid=True, gridcolor="#000000", gridwidth=1,
               showline=True, linecolor="#808080", linewidth=2, mirror=True,
               showticklabels=False, ticks="", zeroline=False, fixedrange=True),
    yaxis=dict(range=[0, 160], tick0=0, dtick=20, showgrid=True, gridcolor="#868686", gridwidth=2,
               showline=True, linecolor="#000000", linewidth=1, mirror=True,
               showticklabels=False, ticks="", zeroline=False, fixedrange=True),
    shapes=[dict(type="path", xref="paper", yref="paper", path=rounded_path(8, 10, 1192, 776, 24),
                 line=dict(color="#8C8C8C", width=2), fillcolor="rgba(0,0,0,0)", layer="below")],
    annotations=[
        dict(text="<b>Od Pohořelic: Čt-7.4.2011</b>", x=fx(103), y=fy(45), xref="paper", yref="paper",
             xanchor="left", yanchor="middle", showarrow=False, font=dict(size=23, family=FONT, color="#111111")),
        dict(text="<b>Rychlost [km/h]</b>", x=fx(64), y=fy(402), xref="paper", yref="paper",
             xanchor="center", yanchor="middle", textangle=-90, showarrow=False,
             font=dict(size=26, family=FONT, color="#111111")),
        dict(text="<b>Čas [h:min:s]</b>", x=fx(609), y=fy(741), xref="paper", yref="paper",
             xanchor="center", yanchor="middle", showarrow=False,
             font=dict(size=26, family=FONT, color="#111111")),
    ],
)

fig.write_html("out.html")
